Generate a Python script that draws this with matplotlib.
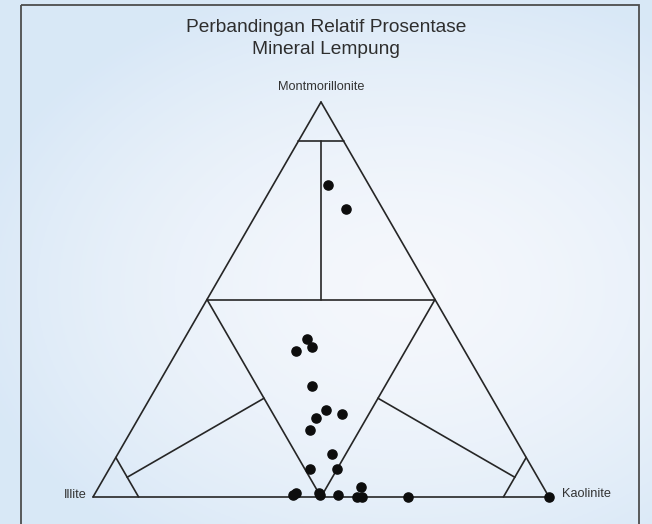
import numpy as np
import matplotlib
matplotlib.use("Agg")
import matplotlib.pyplot as plt
from matplotlib.patches import Rectangle

# Clay-mineral composition of each sample (percent)
montmorillonite = [79, 73, 40, 37, 38, 28, 22, 20, 21, 17, 11, 7, 7, 2.5, 1, 0.5, 1, 0.5, 0.5, 0, 0, 0, 0]
illite          = [9, 8, 33, 37, 33, 38, 38, 41, 35, 44, 42, 49, 43, 40, 55, 56, 50, 50, 46, 42, 41, 31, 0]
kaolinite       = [12, 19, 27, 26, 29, 34, 40, 39, 44, 39, 47, 44, 50, 57.5, 44, 43.5, 49, 49.5, 53.5, 58, 59, 69, 100]

title_lines = ["Perbandingan Relatif Prosentase", "Mineral Lempung"]
apex_labels = {"top": "Montmorillonite", "left": "Illite", "right": "Kaolinite"}

W, H = 652, 524
plt.rcParams["font.family"] = ["Liberation Sans", "DejaVu Sans"]
fig = plt.figure(figsize=(W / 100, H / 100), dpi=100)

# soft blue backdrop
bg = fig.add_axes([0, 0, 1, 1])
bg.set_xlim(0, W)
bg.set_ylim(H, 0)
bg.axis("off")
yy, xx = np.mgrid[0:1:260j, 0:1:320j]
d = np.sqrt(((xx - 0.62) / 0.85) ** 2 + ((yy - 0.55) / 0.75) ** 2)
t = np.clip(d / 0.8, 0, 1) ** 1.6
light = np.array([0.960, 0.970, 0.988])
blue = np.array([0.850, 0.910, 0.968])
img = light * (1 - t[..., None]) + blue * t[..., None]
bg.imshow(img, extent=[0, W, H, 0], aspect="auto", zorder=0)
bg.add_patch(Rectangle((21, 5), 618, 620, fill=False, edgecolor="#4d4d4d",
                       linewidth=1.3, clip_on=False, zorder=1))

# ternary axes: Illite at left, Kaolinite at right, Montmorillonite on top
ax = fig.add_axes([93 / W, (H - 497) / H, 456 / W, 395 / H])
ax.set_xlim(0, 1)
ax.set_ylim(0, np.sqrt(3) / 2)
ax.axis("off")
ax.patch.set_alpha(0)


def tern(m, i, k):
    m, i, k = np.asarray(m, float), np.asarray(i, float), np.asarray(k, float)
    s = m + i + k
    m, k = m / s, k / s
    return k + m / 2, m * np.sqrt(3) / 2


segments = [
    # outline
    [(0, 1, 0), (0, 0, 1)], [(0, 0, 1), (1, 0, 0)], [(1, 0, 0), (0, 1, 0)],
    # 50 % lines (inner triangle)
    [(0.5, 0.5, 0), (0.5, 0, 0.5)], [(0.5, 0.5, 0), (0, 0.5, 0.5)], [(0.5, 0, 0.5), (0, 0.5, 0.5)],
    # 90 % corners
    [(0.9, 0.1, 0), (0.9, 0, 0.1)], [(0.1, 0.9, 0), (0, 0.9, 0.1)], [(0.1, 0, 0.9), (0, 0.1, 0.9)],
    # dividers between 90 % and 50 %
    [(0.9, 0.05, 0.05), (0.5, 0.25, 0.25)],
    [(0.05, 0.9, 0.05), (0.25, 0.5, 0.25)],
    [(0.05, 0.05, 0.9), (0.25, 0.25, 0.5)],
]
for a, b in segments:
    xs, ys = tern([a[0], b[0]], [a[1], b[1]], [a[2], b[2]])
    ax.plot(xs, ys, color="#262626", linewidth=1.2, solid_capstyle="round", clip_on=False)

px, py = tern(montmorillonite, illite, kaolinite)
ax.plot(px, py, "o", color="#0d0d0d", markersize=6.6, linestyle="none", clip_on=False, zorder=5)

for line, ypix in zip(title_lines, [28, 50]):
    fig.text(326 / W, 1 - ypix / H, line, ha="center", va="center", fontsize=13.75,
             color="#2e2e2e")
fig.text(321.5 / W, 1 - 87 / H, apex_labels["top"], ha="center", va="center",
         fontsize=9.2, color="#333333")
fig.text(87 / W, 1 - 495 / H, apex_labels["left"], ha="right", va="center",
         fontsize=9.2, color="#333333")
fig.text(562 / W, 1 - 494 / H, apex_labels["right"], ha="left", va="center",
         fontsize=9.2, color="#333333")

fig.savefig("out.png", dpi=100)
